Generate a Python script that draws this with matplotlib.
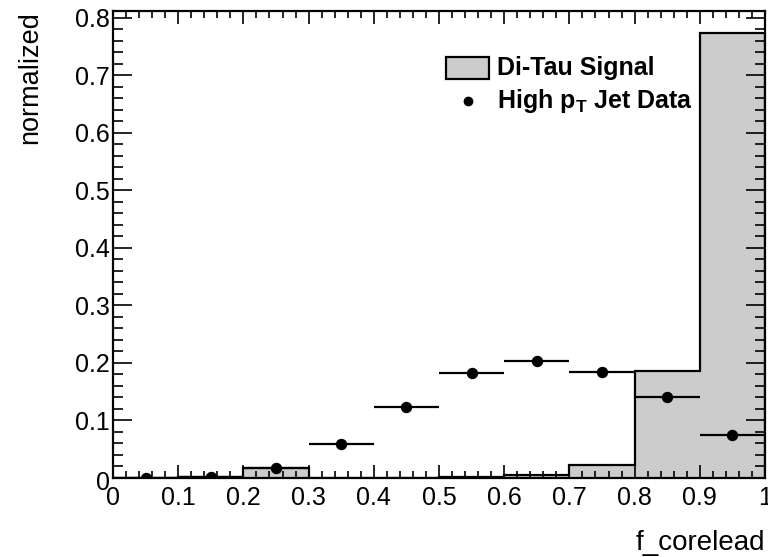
import matplotlib
matplotlib.use("Agg")
import matplotlib.pyplot as plt
from matplotlib.ticker import MultipleLocator, FixedFormatter, FixedLocator
from matplotlib.lines import Line2D
from matplotlib.patches import Rectangle
from matplotlib.transforms import ScaledTranslation

plt.rcParams['font.family'] = ['Liberation Sans', 'DejaVu Sans']
plt.rcParams['mathtext.default'] = 'bf'
plt.rcParams['mathtext.fontset'] = 'custom'
plt.rcParams['mathtext.bf'] = 'Liberation Sans:bold'

bin_edges = [0.0, 0.1, 0.2, 0.3, 0.4, 0.5, 0.6, 0.7, 0.8, 0.9, 1.0]
signal = [0.0, 0.002, 0.018, 0.0, 0.0, 0.002, 0.006, 0.022, 0.186, 0.774]
data_x = [0.05, 0.15, 0.25, 0.35, 0.45, 0.55, 0.65, 0.75, 0.85, 0.95]
data_y = [0.0, 0.002, 0.018, 0.059, 0.123, 0.183, 0.203, 0.184, 0.141, 0.074]
data_xerr = [0.05] * 10
x_ticks = [0, 0.1, 0.2, 0.3, 0.4, 0.5, 0.6, 0.7, 0.8, 0.9, 1.0]
x_labels = ["0", "0.1", "0.2", "0.3", "0.4", "0.5", "0.6", "0.7", "0.8", "0.9", "1"]
y_ticks = [0, 0.1, 0.2, 0.3, 0.4, 0.5, 0.6, 0.7, 0.8]
y_labels = ["0", "0.1", "0.2", "0.3", "0.4", "0.5", "0.6", "0.7", "0.8"]
legend_labels = ["Di-Tau Signal", r"High $\mathbf{p_{T}}$ Jet Data"]

W, H = 768, 557
fig = plt.figure(figsize=(W/100, H/100), dpi=100)
ax = fig.add_axes([113/W, 79/H, 652/W, 467/H])

ax.stairs(signal, bin_edges, fill=True, color='#cccccc', zorder=1)
ax.stairs(signal, bin_edges, fill=False, color='black', linewidth=1.6, zorder=2)
ax.errorbar(data_x, data_y, xerr=data_xerr, fmt='o', color='black',
            markersize=7.2, elinewidth=1.6, capsize=0, zorder=3)

ax.set_xlim(0, 1)
ax.set_ylim(0, 0.812)

ax.xaxis.set_major_locator(FixedLocator(x_ticks))
ax.xaxis.set_major_formatter(FixedFormatter(x_labels))
ax.yaxis.set_major_locator(FixedLocator(y_ticks))
ax.yaxis.set_major_formatter(FixedFormatter(y_labels))
ax.xaxis.set_minor_locator(MultipleLocator(0.02))
ax.yaxis.set_minor_locator(MultipleLocator(0.02))

ax.tick_params(axis='x', which='major', direction='in', length=9.5, width=1.2,
               top=True, bottom=True, labelsize=18, pad=6)
ax.tick_params(axis='x', which='minor', direction='in', length=5, width=1.2,
               top=True, bottom=True)
ax.tick_params(axis='y', which='major', direction='in', length=14, width=1.2,
               left=True, right=True, labelsize=18, pad=2)
ax.tick_params(axis='y', which='minor', direction='in', length=7, width=1.2,
               left=True, right=True)
for sp in ax.spines.values():
    sp.set_linewidth(1.6)

ylab = ax.get_yticklabels()
ylab[0].set_transform(ylab[0].get_transform() + ScaledTranslation(0, -0.03, fig.dpi_scale_trans))

fig.text(30/W, 1 - 11/H, "normalized", rotation=90, ha='center', va='top', fontsize=19.5)
fig.text(765/W, 1 - 543/H, "f_corelead", ha='right', va='center', fontsize=20)

# legend (drawn in figure pixel coordinates)
fig.patches.append(Rectangle((446/W, 1 - 79/H), 43/W, 22/H, transform=fig.transFigure,
                             facecolor='#cccccc', edgecolor='black', linewidth=1.6))
fig.lines.append(Line2D([468/W], [1 - 101/H], marker='o', color='black',
                        markersize=6, linestyle='none', transform=fig.transFigure))
fig.text(497/W, 1 - 68/H, legend_labels[0], ha='left', va='center', fontsize=18, fontweight='bold')
fig.text(497/W, 1 - 101/H, legend_labels[1], ha='left', va='center', fontsize=18, fontweight='bold')

fig.savefig("out.png", dpi=100)
